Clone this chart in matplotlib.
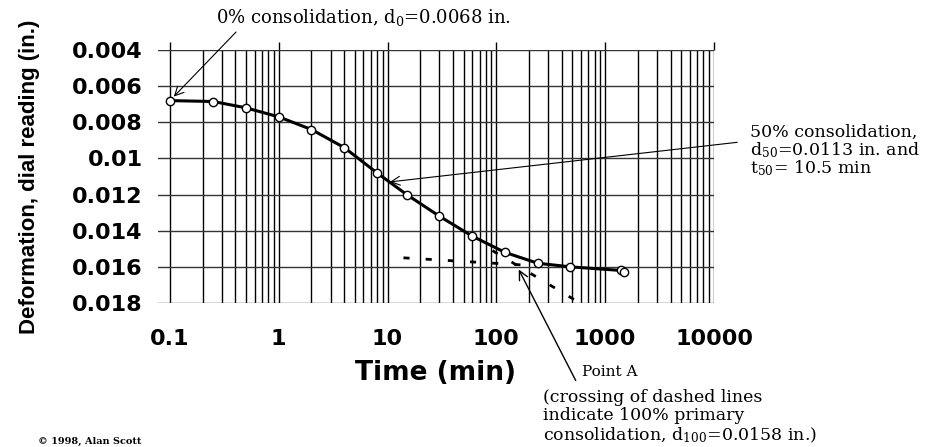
import matplotlib
matplotlib.use('Agg')
import matplotlib.pyplot as plt
from matplotlib.ticker import FixedLocator, NullFormatter

plt.rcParams['mathtext.fontset'] = 'dejavuserif'

# Dial readings vs. time (log scale)
time_min = [0.1, 0.25, 0.5, 1, 2, 4, 8, 15, 30, 60, 120, 240, 480, 1400, 1500]
dial_in = [0.0068, 0.00685, 0.0072, 0.0077, 0.0084, 0.0094, 0.0108, 0.0120,
           0.0132, 0.0143, 0.0152, 0.0158, 0.0160, 0.0162, 0.0163]

# dashed construction lines
flat_t = [14, 180]
flat_d = [0.0155, 0.0159]
steep_t = [92, 550]
steep_d = [0.0151, 0.0179]

# key points
t50, d50 = 10.5, 0.0113
t0, d0 = 0.1, 0.0068
pointA_t, pointA_d = 150, 0.0158

xticks = [0.1, 1, 10, 100, 1000, 10000]
xlabels = ['0.1', '1', '10', '100', '1000', '10000']
yticks = [0.004, 0.006, 0.008, 0.01, 0.012, 0.014, 0.016, 0.018]
ylabels = ['0.004', '0.006', '0.008', '0.01', '0.012', '0.014', '0.016', '0.018']

# minor grid lines 2..9 in each decade between 0.1 and 10000
minor_x = [m * dec for dec in xticks[:-1] for m in range(2, 10)]

W, H = 945, 447
fig = plt.figure(figsize=(9.45, 4.47), dpi=100)
ax = fig.add_axes([158 / W, 1 - 303 / H, (714 - 158) / W, (303 - 50) / H])

ax.set_xscale('log')
ax.set_xlim(0.0777, 10000)
ax.set_ylim(0.018, 0.004)

ax.set_xticks(xticks)
ax.set_xticklabels(xlabels)
ax.xaxis.set_minor_locator(FixedLocator(minor_x))
ax.xaxis.set_minor_formatter(NullFormatter())
ax.set_yticks(yticks)
ax.set_yticklabels(ylabels)

for s in ax.spines.values():
    s.set_visible(False)

ax.grid(True, which='both', axis='x', color='black', lw=1.0)
ax.grid(True, which='major', axis='y', color='#333333', lw=1.0)
ax.tick_params(axis='x', which='major', top=True, bottom=False, labelbottom=True,
               direction='out', length=6, width=1, pad=13)
ax.tick_params(axis='x', which='minor', length=0)
ax.tick_params(axis='y', length=0, pad=11)
for lab in ax.get_xticklabels() + ax.get_yticklabels():
    lab.set_fontsize(16)
    lab.set_fontweight('bold')

ax.set_xlabel('Time (min)', fontsize=19, fontweight='bold')
ax.xaxis.set_label_coords(0.5, -0.225)
ax.set_ylabel('Deformation, dial reading (in.)', fontsize=16, fontweight='bold',
              family=['Liberation Sans', 'DejaVu Sans'])
ax.yaxis.set_label_coords(-0.212, 0.5)

# consolidation curve
ax.plot(time_min, dial_in, color='black', lw=2.2, zorder=3)
ax.plot(time_min, dial_in, 'o', ms=6, mfc='white', mec='black', mew=1, zorder=4)

# dashed lines
ax.plot(flat_t, flat_d, color='black', lw=2, dashes=(2.2, 5.8), zorder=3)
ax.plot(steep_t, steep_d, color='black', lw=2, dashes=(2.2, 5.8), zorder=3)

arrow = dict(arrowstyle='->', color='black', lw=0.8, mutation_scale=16)
serif = 'DejaVu Serif'

fig.text(216 / W, 1 - 17 / H, r'0% consolidation, d$_0$=0.0068 in.',
         family=serif, fontsize=13, va='center', ha='left')
ax.annotate('', xy=(t0, d0), xytext=(238 / W, 1 - 30 / H), textcoords='figure fraction',
            arrowprops=dict(arrow, shrinkB=4))

fig.text(750 / W, 1 - 132 / H, '50% consolidation,', family=serif, fontsize=12.5, va='center')
fig.text(750 / W, 1 - 150 / H, r'd$_{50}$=0.0113 in. and', family=serif, fontsize=12.5,
         va='center')
fig.text(750 / W, 1 - 168 / H, r't$_{50}$= 10.5 min', family=serif, fontsize=12.5,
         va='center')
ax.annotate('', xy=(t50, d50), xytext=(740 / W, 1 - 142 / H), textcoords='figure fraction',
            arrowprops=dict(arrow, shrinkB=0))

fig.text(582 / W, 1 - 372 / H, 'Point A', family=serif, fontsize=11, va='center')
ax.annotate('', xy=(pointA_t, pointA_d), xytext=(577 / W, 1 - 383 / H),
            textcoords='figure fraction', arrowprops=dict(arrow, lw=1, shrinkB=5))
fig.text(543 / W, 1 - 397 / H, '(crossing of dashed lines', family=serif,
         fontsize=12.5, va='center')
fig.text(543 / W, 1 - 416 / H, 'indicate 100% primary', family=serif,
         fontsize=12.5, va='center')
fig.text(543 / W, 1 - 435 / H, r'consolidation, d$_{100}$=0.0158 in.)',
         family=serif, fontsize=12.5, va='center')

fig.text(38 / W, 1 - 441 / H, '\u00a9 1998, Alan Scott', family=serif,
         fontsize=7, fontweight='bold', va='center')

fig.savefig('out.png', dpi=100)
